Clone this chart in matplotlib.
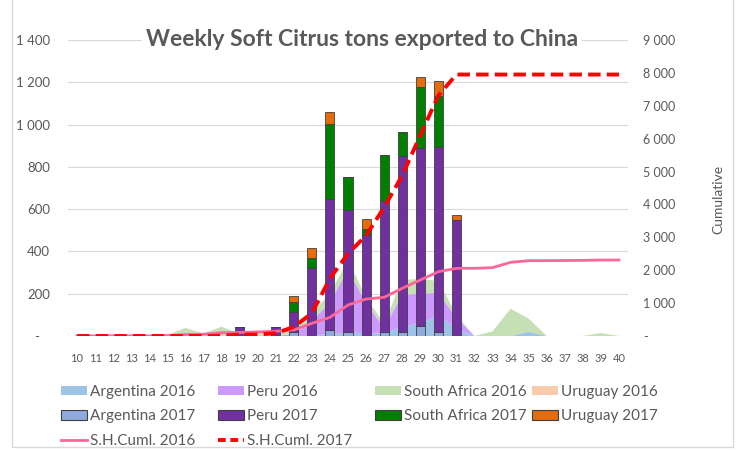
import numpy as np
import matplotlib.pyplot as plt
from matplotlib.patches import Patch, Rectangle
from matplotlib.lines import Line2D
from matplotlib.ticker import FuncFormatter

plt.rcParams['font.family'] = ['Lato', 'DejaVu Sans']

weeks = list(range(10, 41))

# 2016 weekly tons (stacked areas), weeks 10..40
argentina_2016 = [0, 0, 0, 0, 0, 0, 0, 0, 0, 0, 0, 0, 0, 0, 10, 15, 15, 10, 45, 60, 95, 35, 0, 0, 0, 20, 0, 0, 0, 0, 0]
peru_2016 = [0, 0, 0, 0, 0, 0, 0, 0, 0, 0, 0, 0, 10, 70, 150, 300, 140, 30, 150, 140, 110, 50, 0, 0, 0, 0, 0, 0, 0, 0, 0]
safrica_2016 = [0, 0, 0, 0, 0, 5, 38, 12, 44, 10, 15, 20, 30, 40, 40, 45, 25, 20, 70, 70, 55, 15, 0, 22, 129, 62, 0, 0, 0, 14, 0]
uruguay_2016 = [0] * 31

# 2017 weekly tons (stacked bars)
argentina_2017 = [0, 0, 0, 0, 0, 0, 0, 0, 0, 0, 0, 0, 20, 0, 28, 20, 0, 20, 20, 47, 20, 0, 0, 0, 0, 0, 0, 0, 0, 0, 0]
peru_2017 = [0, 0, 0, 0, 0, 0, 0, 0, 0, 43, 0, 43, 93, 320, 618, 577, 478, 619, 829, 844, 873, 549, 0, 0, 0, 0, 0, 0, 0, 0, 0]
safrica_2017 = [0, 0, 0, 0, 0, 0, 0, 0, 0, 0, 0, 0, 50, 47, 359, 156, 27, 219, 115, 286, 243, 0, 0, 0, 0, 0, 0, 0, 0, 0, 0]
uruguay_2017 = [0, 0, 0, 0, 0, 0, 0, 0, 0, 0, 0, 0, 27, 50, 53, 0, 47, 0, 0, 47, 71, 25, 0, 0, 0, 0, 0, 0, 0, 0, 0]

# season cumulative (right axis)
cuml_2016 = [0, 0, 0, 0, 0, 5, 43, 55, 99, 109, 124, 144, 184, 385, 568, 942, 1125, 1176, 1450, 1702, 1955,
             2057, 2058, 2078, 2240, 2290, 2290, 2295, 2300, 2310, 2310]
cuml_2017 = [0, 0, 0, 0, 0, 0, 0, 0, 0, 43, 43, 86, 276, 693, 1750, 2503, 3055, 3913, 4877, 6100, 7310,
             7950, 7950, 7950, 7950, 7950, 7950, 7950, 7950, 7950, 7950]

grey = '#595959'
c_arg16, c_per16, c_sa16, c_uru16 = '#9dc3e6', '#cc99ff', '#c5e0b4', '#f8cbad'
c_arg17, c_per17, c_sa17, c_uru17 = '#8faadc', '#7030a0', '#008000', '#e46c0a'
c_cum16, c_cum17 = '#ff6699', '#ff0000'

fig = plt.figure(figsize=(7.36, 4.53), dpi=100)
ax = fig.add_axes([68 / 736, 1 - 336 / 453, 560 / 736, 296 / 453])

x = np.arange(len(weeks))
ax.stackplot(x, argentina_2016, peru_2016, safrica_2016, uruguay_2016,
             colors=[c_arg16, c_per16, c_sa16, c_uru16], linewidth=0, zorder=2)

bottom = np.zeros(len(weeks))
for vals, col in [(argentina_2017, c_arg17), (peru_2017, c_per17),
                  (safrica_2017, c_sa17), (uruguay_2017, c_uru17)]:
    v = np.array(vals)
    ax.bar(x, v, 0.5, bottom=bottom, color=col, edgecolor='#404040', linewidth=0.6, zorder=3)
    bottom += v

ax.set_xlim(-0.5, len(weeks) - 0.5)
ax.set_ylim(0, 1400)
ax.set_yticks(range(0, 1401, 200))
ax.yaxis.set_major_formatter(FuncFormatter(lambda v, p: '-   ' if v == 0 else f'{int(v):,}'.replace(',', ' ')))
ax.set_xticks(x)
ax.set_xticklabels(weeks)
ax.grid(axis='y', color='#d9d9d9', linewidth=0.8, zorder=0)
ax.set_axisbelow(True)
for s in ax.spines.values():
    s.set_visible(False)
ax.tick_params(axis='y', length=0, pad=13, labelsize=9.5, labelcolor=grey)
ax.tick_params(axis='x', length=0, pad=12, labelsize=8, labelcolor=grey)

ax2 = ax.twinx()
ax2.plot(x, cuml_2016, color=c_cum16, linewidth=2, zorder=4)
ax2.plot(x, cuml_2017, color=c_cum17, linewidth=2.8, linestyle=(0, (3.2, 1.6)), zorder=5)
ax2.set_ylim(0, 9000)
ax2.set_yticks(range(0, 9001, 1000))
ax2.yaxis.set_major_formatter(FuncFormatter(lambda v, p: '-' if v == 0 else f'{int(v):,}'.replace(',', ' ')))
for s in ax2.spines.values():
    s.set_visible(False)
ax2.tick_params(axis='y', length=0, pad=11, labelsize=9, labelcolor=grey)
ax2.set_ylabel('Cumulative', color=grey, fontsize=10, labelpad=22)
ax2.yaxis.set_label_coords(1.15, 0.46)

fig.text(362 / 736, 1 - 40 / 453, 'Weekly Soft Citrus tons exported to China', ha='center', va='center',
         fontsize=16.5, fontweight='bold', color=grey,
         bbox=dict(facecolor='white', edgecolor='none', pad=3))

# chart frame
fig.patches.append(Rectangle((12 / 736, 1 - 447 / 453), 721 / 736, 460 / 453, transform=fig.transFigure,
                             fill=False, edgecolor='#d9d9d9', linewidth=1))

edge = '#404040'
columns = [
    ([Patch(facecolor=c_arg16, edgecolor='none'), Patch(facecolor=c_arg17, edgecolor=edge, linewidth=0.8),
      Line2D([], [], color=c_cum16, linewidth=2)],
     ['Argentina 2016', 'Argentina 2017', 'S.H.Cuml. 2016'], 61),
    ([Patch(facecolor=c_per16, edgecolor='none'), Patch(facecolor=c_per17, edgecolor=edge, linewidth=0.8),
      Line2D([], [], color=c_cum17, linewidth=2.8, linestyle=(0, (2, 1.2)))],
     ['Peru 2016', 'Peru 2017', 'S.H.Cuml. 2017'], 218),
    ([Patch(facecolor=c_sa16, edgecolor='none'), Patch(facecolor=c_sa17, edgecolor=edge, linewidth=0.8)],
     ['South Africa 2016', 'South Africa 2017'], 375),
    ([Patch(facecolor=c_uru16, edgecolor='none'), Patch(facecolor=c_uru17, edgecolor=edge, linewidth=0.8)],
     ['Uruguay 2016', 'Uruguay 2017'], 532),
]
for handles, labels, xpos in columns:
    leg = fig.legend(handles, labels, loc='upper left', bbox_to_anchor=(xpos / 736, 1 - 385 / 453),
                     frameon=False, fontsize=11, handlelength=1.7, handleheight=0.6, handletextpad=0.2,
                     labelspacing=0.68, borderpad=0, borderaxespad=0)
    for t in leg.get_texts():
        t.set_color(grey)

fig.savefig('out.png', dpi=100)
